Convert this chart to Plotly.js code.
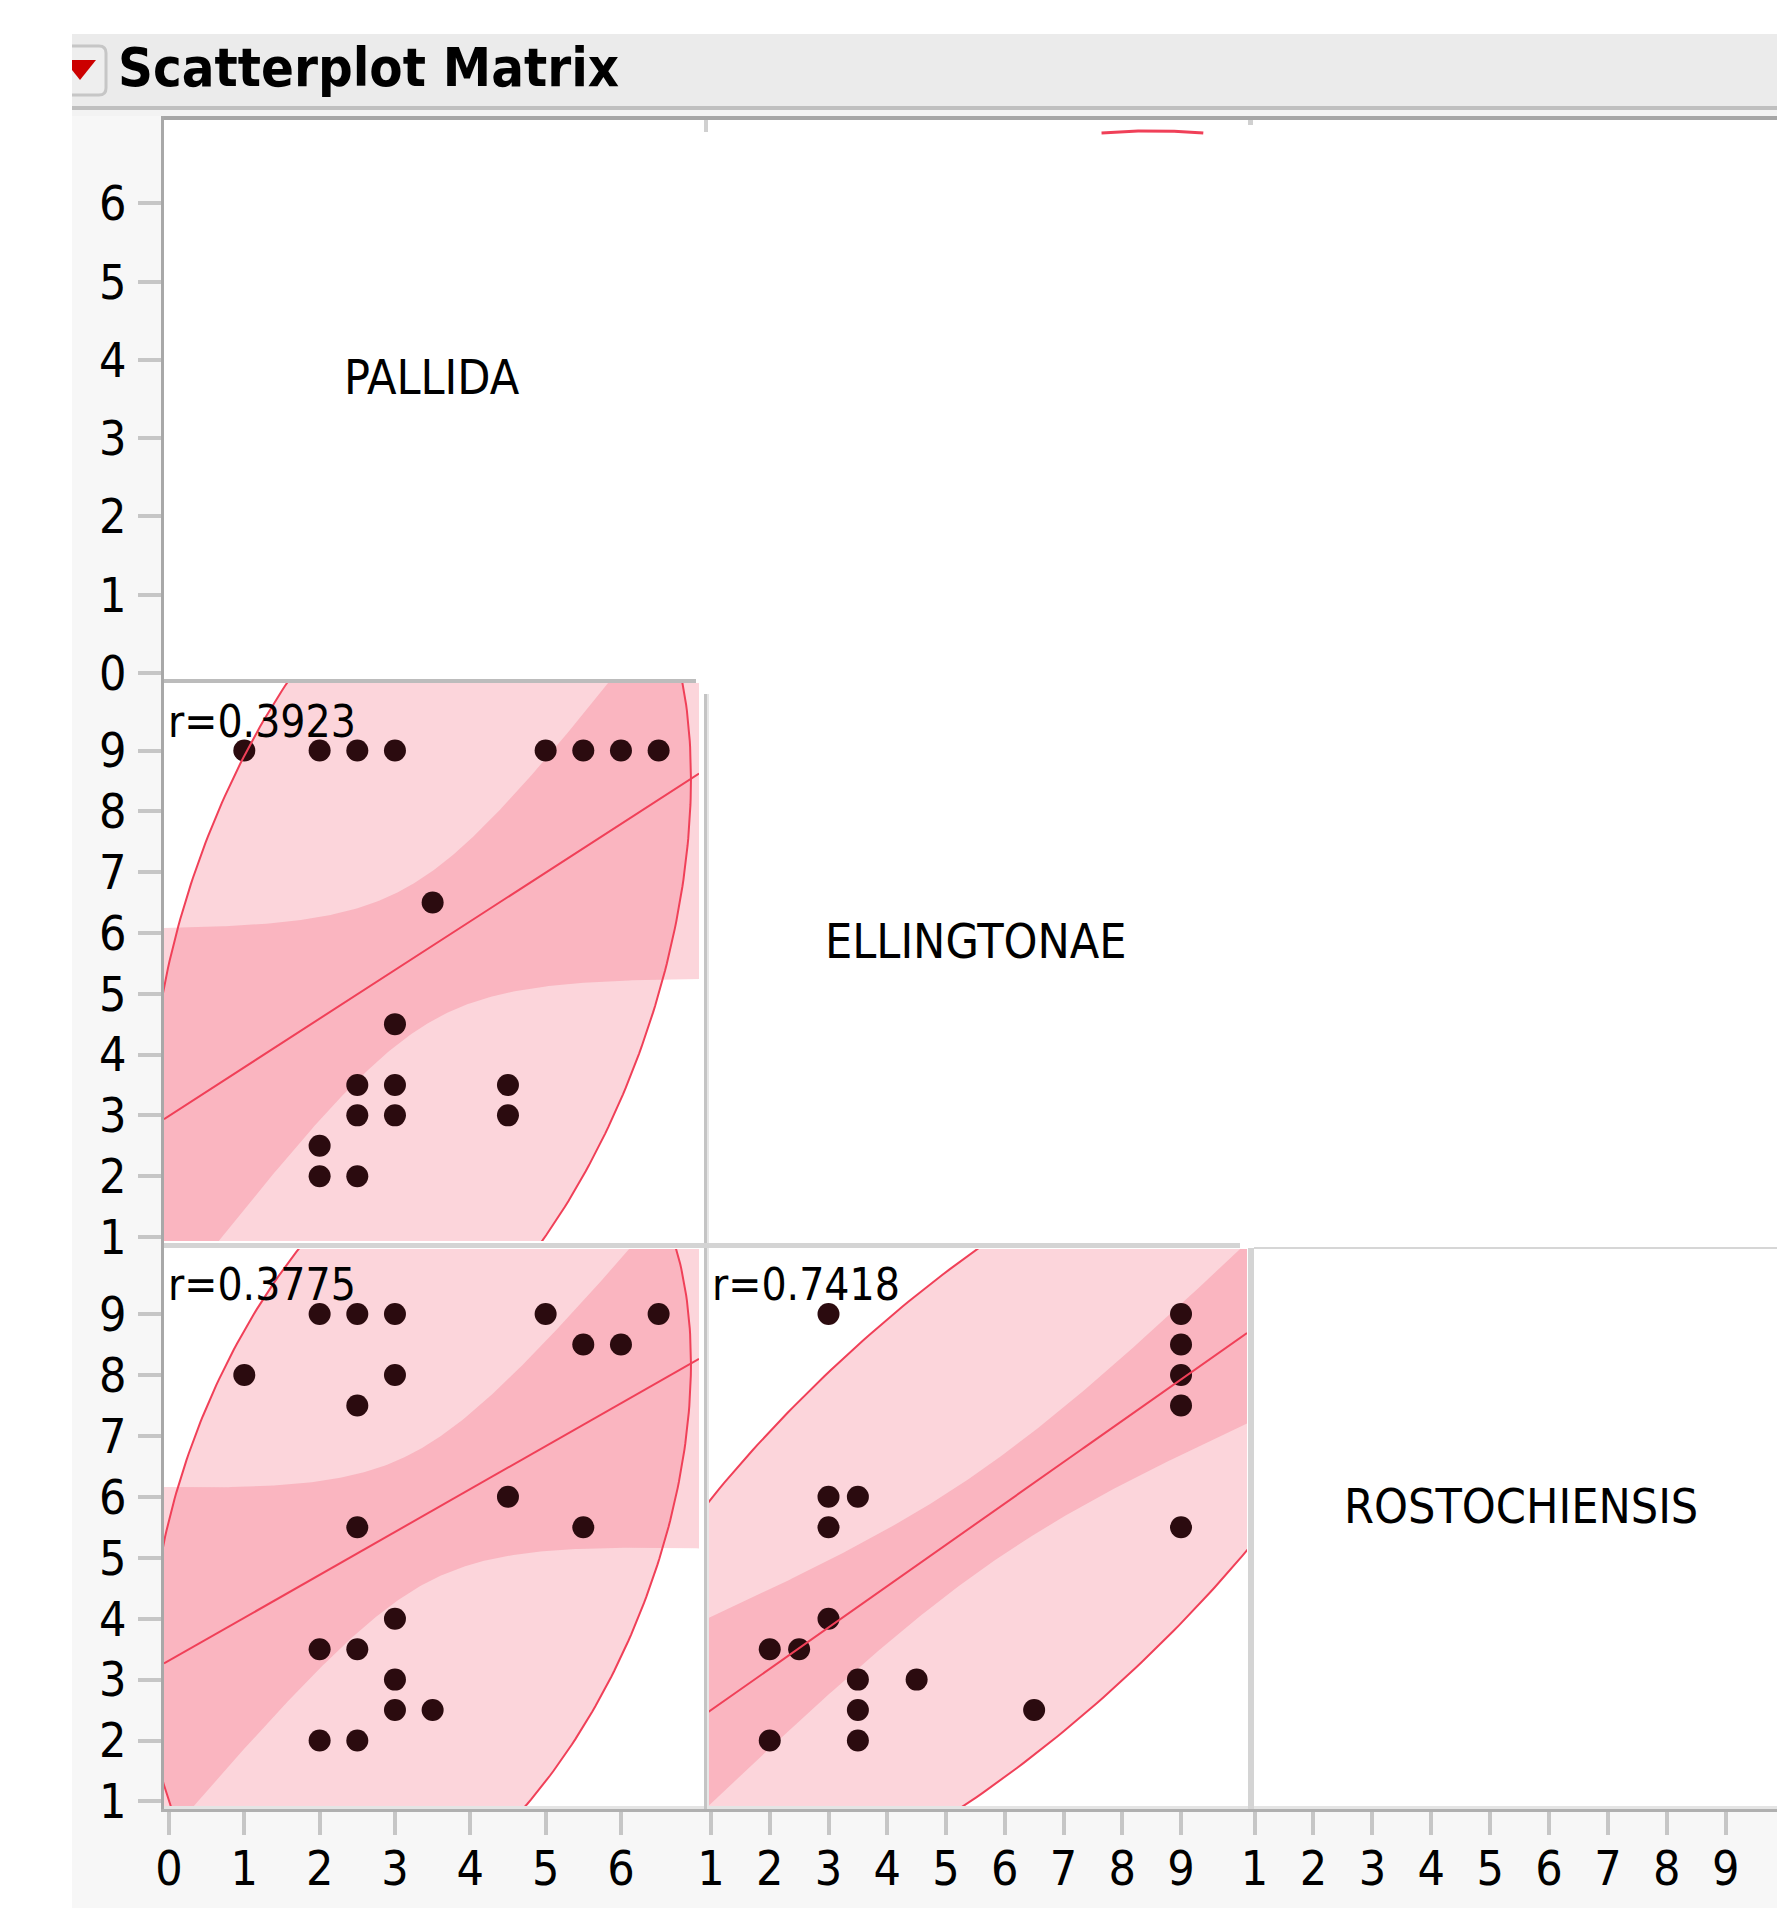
<!DOCTYPE html>
<html><head><meta charset="utf-8">
<script src="https://cdn.plot.ly/plotly-3.0.1.min.js"></script>
<style>html,body{margin:0;padding:0;background:#fff;}#chart{width:1777px;height:1908px;}</style>
</head><body><div id="chart"></div>
<script>
// ---------------- data ----------------
const varNames = ['PALLIDA', 'ELLINGTONAE', 'ROSTOCHIENSIS'];
const pallidaTicks = [0, 1, 2, 3, 4, 5, 6];
const ellingtonaeTicks = [1, 2, 3, 4, 5, 6, 7, 8, 9];
const rostochiensisTicks = [1, 2, 3, 4, 5, 6, 7, 8, 9];

// PALLIDA (x) vs ELLINGTONAE (y)
const peX = [1, 2, 2.5, 3, 5, 5.5, 6, 6.5, 3.5, 3, 2.5, 3, 4.5, 2.5, 3, 4.5, 2, 2, 2.5];
const peY = [9, 9, 9, 9, 9, 9, 9, 9, 6.5, 4.5, 3.5, 3.5, 3.5, 3, 3, 3, 2.5, 2, 2];
// PALLIDA (x) vs ROSTOCHIENSIS (y)
const prX = [2, 2.5, 3, 5, 6.5, 5.5, 6, 1, 3, 2.5, 4.5, 2.5, 5.5, 3, 2, 2.5, 3, 3, 3.5, 2, 2.5];
const prY = [9, 9, 9, 9, 9, 8.5, 8.5, 8, 8, 7.5, 6, 5.5, 5.5, 4, 3.5, 3.5, 3, 2.5, 2.5, 2, 2];
// ELLINGTONAE (x) vs ROSTOCHIENSIS (y)
const erX = [3, 9, 9, 9, 9, 3, 3.5, 3, 9, 3, 2, 2.5, 3.5, 4.5, 3.5, 6.5, 2, 3.5];
const erY = [9, 9, 8.5, 8, 7.5, 6, 6, 5.5, 5.5, 4, 3.5, 3.5, 3, 3, 2.5, 2.5, 2, 2];

const corrLabels = ['r=0.3923', 'r=0.3775', 'r=0.7418'];
const corrValues = [0.3923, 0.3775, 0.7418];
// summary statistics (PALLIDA, ELLINGTONAE, ROSTOCHIENSIS) estimated from the fit lines / ellipses
const varMeans = [3.336, 5.66, 5.66];
const varSDs = [1.468, 2.994, 2.738];
const nObs = 23;
const tCrit = 2.080;       // t(0.975, n-2)
const chi2_95 = 5.9915;    // 95% density ellipse

// ---------------- geometry ----------------
const W = 1777, H = 1908;
const FONT = '"DejaVu Sans Condensed", "DejaVu Sans", sans-serif';
const px = x => x / W;
const py = y => 1 - y / H;
const colPx = [[164, 699], [708, 1247], [1254, 1777]];
const rowPx = [[120, 679], [683, 1241], [1249, 1806]];
const xRanges = [[-0.066, 7.036], [0.949, 10.123], [0.99, 9.871]];
const yRanges = [[-0.077, 7.067], [0.934, 10.11], [0.926, 10.067]];

const FILL = 'rgba(243,87,110,0.25)';
const LINE = 'rgb(240,64,88)';
const DOT = 'rgb(43,11,15)';

function ellipsePts(mx, sx, my, sy, r, N) {
  const c = Math.sqrt(chi2_95), xs = [], ys = [];
  for (let i = 0; i < N; i++) {
    const t = 2 * Math.PI * i / (N - 1);
    xs.push(mx + c * sx * Math.cos(t));
    ys.push(my + c * sy * (r * Math.cos(t) + Math.sqrt(1 - r * r) * Math.sin(t)));
  }
  return [xs, ys];
}
function fitPts(mx, sx, my, sy, r, x0, x1, N) {
  const b = r * sy / sx;
  const s = sy * Math.sqrt((nObs - 1) / (nObs - 2) * (1 - r * r));
  const xs = [], yh = [], up = [], lo = [];
  for (let i = 0; i < N; i++) {
    const x = x0 + (x1 - x0) * i / (N - 1);
    const y = my + b * (x - mx);
    const se = s * Math.sqrt(1 / nObs + (x - mx) * (x - mx) / ((nObs - 1) * sx * sx));
    xs.push(x); yh.push(y); up.push(y + tCrit * se); lo.push(y - tCrit * se);
  }
  return {xs, yh, up, lo};
}

const traces = [];
function cell(xa, ya, xi, yi, ci, ptsX, ptsY, xr) {
  const [ex, ey] = ellipsePts(varMeans[xi], varSDs[xi], varMeans[yi], varSDs[yi], corrValues[ci], 400);
  const f = fitPts(varMeans[xi], varSDs[xi], varMeans[yi], varSDs[yi], corrValues[ci], xr[0], xr[1], 200);
  traces.push({type: 'scatter', mode: 'lines', x: ex, y: ey, xaxis: xa, yaxis: ya,
    fill: 'toself', fillcolor: FILL, line: {width: 0}, hoverinfo: 'skip'});
  traces.push({type: 'scatter', mode: 'lines', x: f.xs.concat(f.xs.slice().reverse()),
    y: f.up.concat(f.lo.slice().reverse()), xaxis: xa, yaxis: ya,
    fill: 'toself', fillcolor: FILL, line: {width: 0}, hoverinfo: 'skip'});
  traces.push({type: 'scatter', mode: 'markers', x: ptsX, y: ptsY, xaxis: xa, yaxis: ya,
    marker: {size: 22, color: DOT, line: {width: 0}}, cliponaxis: true});
  traces.push({type: 'scatter', mode: 'lines', x: ex, y: ey, xaxis: xa, yaxis: ya,
    line: {color: LINE, width: 2}, hoverinfo: 'skip'});
  traces.push({type: 'scatter', mode: 'lines', x: f.xs, y: f.yh, xaxis: xa, yaxis: ya,
    line: {color: LINE, width: 2}, hoverinfo: 'skip'});
}
cell('x', 'y2', 0, 1, 0, peX, peY, xRanges[0]);
cell('x', 'y3', 0, 2, 1, prX, prY, xRanges[0]);
cell('x2', 'y3', 1, 2, 2, erX, erY, xRanges[1]);

// top of the transposed PALLIDA/ELLINGTONAE ellipse visible in the upper cell
(function () {
  const [ex, ey] = ellipsePts(varMeans[1], varSDs[1], varMeans[0], varSDs[0], corrValues[0], 4000);
  const top = Math.max(...ey);
  const ax = [], ay = [];
  for (let i = 0; i < ex.length; i++) if (ey[i] > top - 0.03) { ax.push(ex[i]); ay.push(ey[i]); }
  const order = ax.map((v, i) => i).sort((a, b) => ax[a] - ax[b]);
  traces.push({type: 'scatter', mode: 'lines', x: order.map(i => ax[i]), y: order.map(i => ay[i]),
    xaxis: 'x2', yaxis: 'y', line: {color: LINE, width: 3}, hoverinfo: 'skip'});
})();
// diagonal subplots
[['x', 'y'], ['x2', 'y2'], ['x3', 'y3']].forEach(([a, b]) =>
  traces.push({type: 'scatter', mode: 'markers', x: [null], y: [null], xaxis: a, yaxis: b}));

// ---------------- axes ----------------
const tickFont = {family: FONT, size: 48, color: '#000'};
function xAx(i, ticks) {
  return {domain: [px(colPx[i][0]), px(colPx[i][1])], range: xRanges[i], anchor: 'y3',
    tickmode: 'array', tickvals: ticks, ticktext: ticks.map(String),
    ticks: 'outside', ticklen: 28, tickwidth: 4, tickcolor: '#c6c6c6',
    showgrid: false, zeroline: false, showline: false, tickfont: tickFont, fixedrange: true,
    ticklabelstandoff: -8};
}
function yAx(i, ticks) {
  return {domain: [py(rowPx[i][1]), py(rowPx[i][0])], range: yRanges[i], anchor: 'x',
    tickmode: 'array', tickvals: ticks, ticktext: ticks.map(String),
    ticks: 'outside', ticklen: 25, tickwidth: 4, tickcolor: '#c6c6c6',
    showgrid: false, zeroline: false, showline: false, tickfont: tickFont, fixedrange: true,
    ticklabelstandoff: 2};
}

// ---------------- decorations ----------------
const shapes = [];
function rect(x0, y0, x1, y1, color, layer) {
  shapes.push({type: 'rect', xref: 'paper', yref: 'paper', x0: px(x0), x1: px(x1), y0: py(y1), y1: py(y0),
    fillcolor: color, line: {width: 0}, layer: layer || 'below'});
}
rect(72, 34, W, 106, '#ebebeb');
rect(72, 106, W, 110, '#bfbfbf');
rect(72, 110, W, 116, '#f3f3f3');
rect(72, 116, 162, H, '#f7f7f7');
rect(72, 1812, W, H, '#f7f7f7');
rect(162, 116, W, 1812, '#ffffff');
// disclosure icon
shapes.push({type: 'path', xref: 'paper', yref: 'paper', layer: 'below',
  path: `M${px(72)},${py(46)} L${px(99)},${py(46)} Q${px(106)},${py(46)} ${px(106)},${py(53)} L${px(106)},${py(88)} Q${px(106)},${py(95)} ${px(99)},${py(95)} L${px(72)},${py(95)}`,
  fillcolor: '#eeeeee', line: {color: '#c6c6c6', width: 3}});
shapes.push({type: 'path', xref: 'paper', yref: 'paper', layer: 'below',
  path: `M${px(72)},${py(60)} L${px(96)},${py(60)} L${px(80)},${py(80)} L${px(72)},${py(70)} Z`,
  fillcolor: '#cc0000', line: {width: 0}});
// frame & cell borders
rect(162, 116, W, 120, '#a6a6a6', 'above');
rect(161, 116, 164, 1812, '#a8a8a8', 'above');
rect(164, 1806, W, 1809, '#e4e4e4', 'above');
rect(161, 1809, W, 1812, '#b0b0b0', 'above');
rect(164, 679, 696, 683, '#bcbcbc', 'above');
rect(704, 694, 707, 1809, '#c4c4c4', 'above');
rect(707, 694, 709, 1809, '#e6e6e6', 'above');
rect(704, 120, 708, 132, '#d0d0d0', 'above');
rect(1248, 120, 1253, 125, '#d0d0d0', 'above');
rect(164, 1243, 1240, 1248, '#d4d4d4', 'above');
rect(1248, 1248, 1254, 1809, '#d4d4d4', 'above');
rect(1254, 1247, W, 1249, '#d6d6d6', 'above');

// ---------------- text ----------------
const annotations = [];
function label(text, x, y, size, anchor, weight) {
  annotations.push({text: text, xref: 'paper', yref: 'paper', x: px(x), y: py(y), showarrow: false,
    xanchor: anchor, yanchor: 'middle', font: {family: FONT, size: size, color: '#000', weight: weight || 400}});
}
label('Scatterplot Matrix', 116, 68, 54, 'left', 700);
label(varNames[0], 432, 377, 48, 'center');
label(varNames[1], 976, 941, 48, 'center');
label(varNames[2], 1521, 1506, 48, 'center');
label(corrLabels[0], 166, 721, 44, 'left');
label(corrLabels[1], 166, 1284, 44, 'left');
label(corrLabels[2], 710, 1284, 44, 'left');

const layout = {
  width: W, height: H, autosize: false, margin: {l: 0, r: 0, t: 0, b: 0, pad: 0},
  paper_bgcolor: '#ffffff', plot_bgcolor: 'rgba(0,0,0,0)', showlegend: false,
  font: {family: FONT, color: '#000'},
  xaxis: xAx(0, pallidaTicks), xaxis2: xAx(1, ellingtonaeTicks), xaxis3: xAx(2, rostochiensisTicks),
  yaxis: yAx(0, pallidaTicks), yaxis2: yAx(1, ellingtonaeTicks), yaxis3: yAx(2, rostochiensisTicks),
  shapes: shapes, annotations: annotations, hovermode: false
};
Plotly.newPlot('chart', traces, layout, {staticPlot: true, displayModeBar: false});
</script></body></html>
